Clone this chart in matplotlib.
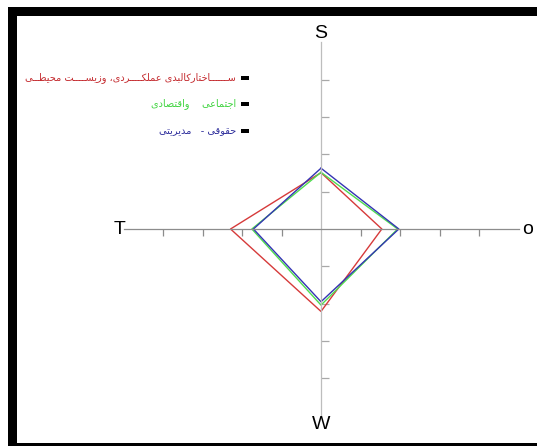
import matplotlib
matplotlib.use('Agg')
import matplotlib.pyplot as plt
from matplotlib.patches import Rectangle
import numpy as np

# Values per axis, in order S (up), o (right), W (down), T (left)
axis_names = ['S', 'o', 'W', 'T']
built_env = [1.51, 1.54, 2.21, 2.29]
socio_econ = [1.52, 1.94, 2.04, 1.75]
legal_mgmt = [1.63, 1.97, 1.95, 1.71]
tick_values = [-4, -3, -2, -1, 1, 2, 3, 4]

legend_labels = [
    'ســــــاختارکالبدی عملکــــردی، وزیســــت محیطــی',
    'اجتماعی    واقتصادی',
    'حقوقی -   مدیریتی',
]
series = [built_env, socio_econ, legal_mgmt]
line_colors = ['#d63a3a', '#4fdc4f', '#3434b4']
text_colors = ['#c42a2e', '#3fd43f', '#2e2e9c']

W_PX, H_PX = 537, 446

# --- tiny Arabic/Persian shaper (matplotlib does no shaping) ---
TATWEEL = '\u0640'
FORMS = {
    '\u0627': ('\uFE8D', '\uFE8E', None, None),
    '\u0628': ('\uFE8F', '\uFE90', '\uFE91', '\uFE92'),
    '\u062A': ('\uFE95', '\uFE96', '\uFE97', '\uFE98'),
    '\u062C': ('\uFE9D', '\uFE9E', '\uFE9F', '\uFEA0'),
    '\u062D': ('\uFEA1', '\uFEA2', '\uFEA3', '\uFEA4'),
    '\u062E': ('\uFEA5', '\uFEA6', '\uFEA7', '\uFEA8'),
    '\u062F': ('\uFEA9', '\uFEAA', None, None),
    '\u0631': ('\uFEAD', '\uFEAE', None, None),
    '\u0632': ('\uFEAF', '\uFEB0', None, None),
    '\u0633': ('\uFEB1', '\uFEB2', '\uFEB3', '\uFEB4'),
    '\u0635': ('\uFEB9', '\uFEBA', '\uFEBB', '\uFEBC'),
    '\u0637': ('\uFEC1', '\uFEC2', '\uFEC3', '\uFEC4'),
    '\u0639': ('\uFEC9', '\uFECA', '\uFECB', '\uFECC'),
    '\u0642': ('\uFED5', '\uFED6', '\uFED7', '\uFED8'),
    '\u06A9': ('\uFED9', '\uFEDA', '\uFEDB', '\uFEDC'),
    '\u0644': ('\uFEDD', '\uFEDE', '\uFEDF', '\uFEE0'),
    '\u0645': ('\uFEE1', '\uFEE2', '\uFEE3', '\uFEE4'),
    '\u0648': ('\uFEED', '\uFEEE', None, None),
    '\u06CC': ('\uFEEF', '\uFEF0', '\uFEF3', '\uFEF4'),
}


def joins_left(ch):
    return ch == TATWEEL or (ch in FORMS and FORMS[ch][2] is not None)


def shape(text):
    out = []
    for i, ch in enumerate(text):
        if ch not in FORMS:
            out.append(ch)
            continue
        prev = text[i - 1] if i > 0 else ''
        nxt = text[i + 1] if i < len(text) - 1 else ''
        jp = joins_left(prev)
        jn = FORMS[ch][2] is not None and (nxt in FORMS or nxt == TATWEEL)
        iso, fin, ini, med = FORMS[ch]
        out.append(med if (jp and jn) else fin if jp else ini if jn else iso)
    return ''.join(reversed(out))


def fx(x):
    return x / W_PX


def fy(y):
    return 1 - y / H_PX


fig = plt.figure(figsize=(W_PX / 100, H_PX / 100), dpi=100)
fig.patch.set_facecolor('white')

# thick black frame
for x0, y0, x1, y1 in [(8, 7, 537, 16), (8, 7, 17, 443), (8, 443, 537, 446)]:
    fig.add_artist(Rectangle((fx(x0), fy(y1)), fx(x1) - fx(x0), fy(y0) - fy(y1),
                             transform=fig.transFigure, color='black', lw=0))

ax = fig.add_axes([fx(123.5), fy(415.5), fx(395), 373 / H_PX])
ax.set_xlim(-5, 5)
ax.set_ylim(-5, 5)
ax.set_facecolor('none')

ax.spines['top'].set_visible(False)
ax.spines['right'].set_visible(False)
ax.spines['left'].set_position(('data', 0))
ax.spines['bottom'].set_position(('data', 0))
ax.spines['left'].set_color('#bdbdbd')
ax.spines['bottom'].set_color('#8c8c8c')
ax.spines['left'].set_linewidth(0.9)
ax.spines['bottom'].set_linewidth(0.9)
ax.set_xticks(tick_values)
ax.set_yticks(tick_values)
ax.tick_params(axis='x', direction='out', length=5, width=0.9, color='#8c8c8c', labelbottom=False)
ax.tick_params(axis='y', direction='in', length=5.5, width=0.9, color='#a8a8a8', labelleft=False)

# diamonds
dirs = np.array([[0, 1], [1, 0], [0, -1], [-1, 0]])
for vals, c in zip(series, line_colors):
    pts = dirs * np.array(vals)[:, None]
    pts = np.vstack([pts, pts[:1]])
    ax.plot(pts[:, 0], pts[:, 1], color=c, lw=1.0, clip_on=False)

# axis end labels
lab_font = dict(family='Liberation Sans', fontsize=14, color='black', ha='center', va='center')
ax.text(0, 5.25, axis_names[0], **lab_font)
ax.text(5.22, 0, axis_names[1], **lab_font)
ax.text(0, -5.25, axis_names[2], **lab_font)
ax.text(-5.09, 0, axis_names[3], **lab_font)

# legend (right-to-left)
leg_y = [78, 104, 131]
for lab, ty, tc in zip(legend_labels, leg_y, text_colors):
    fig.add_artist(Rectangle((fx(241), fy(ty + 1.8)), fx(7.5), 3.6 / H_PX,
                             transform=fig.transFigure, color='black', lw=0))
    fig.text(fx(236), fy(ty), shape(lab), family='DejaVu Sans', fontsize=7,
             color=tc, ha='right', va='center')

fig.savefig('out.png', dpi=100)
